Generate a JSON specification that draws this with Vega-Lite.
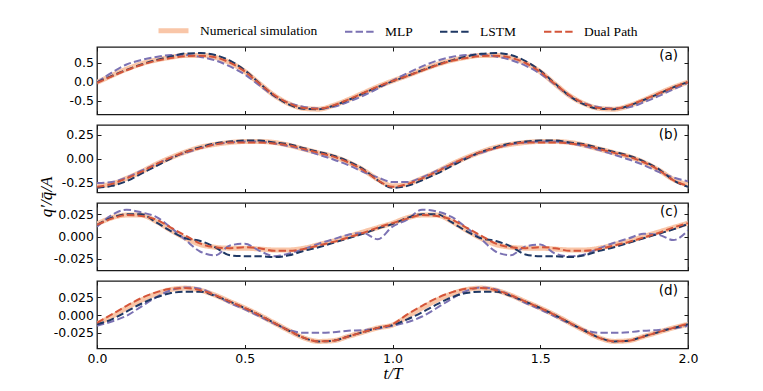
{
  "$schema": "https://vega.github.io/schema/vega-lite/v6.json",
  "autosize": {"type": "pad"},
  "padding": {"left": 36, "top": 13, "right": 5, "bottom": 5},
  "background": "#ffffff",
  "data": {"values": [
    {"p":"a","t":0.00,"N":-0.02,"M":-0.02,"L":-0.02,"D":-0.03},
    {"p":"a","t":0.05,"N":0.16,"M":0.24,"L":0.15,"D":0.14},
    {"p":"a","t":0.10,"N":0.33,"M":0.45,"L":0.31,"D":0.30},
    {"p":"a","t":0.15,"N":0.47,"M":0.57,"L":0.45,"D":0.44},
    {"p":"a","t":0.20,"N":0.57,"M":0.65,"L":0.57,"D":0.55},
    {"p":"a","t":0.25,"N":0.64,"M":0.70,"L":0.66,"D":0.62},
    {"p":"a","t":0.30,"N":0.69,"M":0.70,"L":0.74,"D":0.67},
    {"p":"a","t":0.35,"N":0.69,"M":0.65,"L":0.75,"D":0.68},
    {"p":"a","t":0.40,"N":0.64,"M":0.56,"L":0.70,"D":0.64},
    {"p":"a","t":0.45,"N":0.50,"M":0.40,"L":0.55,"D":0.50},
    {"p":"a","t":0.50,"N":0.27,"M":0.19,"L":0.30,"D":0.27},
    {"p":"a","t":0.55,"N":-0.05,"M":-0.10,"L":-0.04,"D":-0.05},
    {"p":"a","t":0.60,"N":-0.36,"M":-0.38,"L":-0.37,"D":-0.35},
    {"p":"a","t":0.65,"N":-0.58,"M":-0.56,"L":-0.60,"D":-0.57},
    {"p":"a","t":0.70,"N":-0.70,"M":-0.66,"L":-0.71,"D":-0.69},
    {"p":"a","t":0.75,"N":-0.72,"M":-0.70,"L":-0.72,"D":-0.71},
    {"p":"a","t":0.80,"N":-0.62,"M":-0.66,"L":-0.63,"D":-0.62},
    {"p":"a","t":0.85,"N":-0.47,"M":-0.53,"L":-0.48,"D":-0.47},
    {"p":"a","t":0.90,"N":-0.30,"M":-0.37,"L":-0.31,"D":-0.30},
    {"p":"a","t":0.95,"N":-0.13,"M":-0.18,"L":-0.14,"D":-0.13},
    {"p":"a","t":1.00,"N":0.02,"M":0.03,"L":0.01,"D":0.02},
    {"p":"a","t":1.05,"N":0.16,"M":0.22,"L":0.15,"D":0.15},
    {"p":"a","t":1.10,"N":0.31,"M":0.40,"L":0.30,"D":0.29},
    {"p":"a","t":1.15,"N":0.45,"M":0.55,"L":0.44,"D":0.43},
    {"p":"a","t":1.20,"N":0.56,"M":0.65,"L":0.56,"D":0.55},
    {"p":"a","t":1.25,"N":0.64,"M":0.70,"L":0.66,"D":0.62},
    {"p":"a","t":1.30,"N":0.69,"M":0.71,"L":0.73,"D":0.67},
    {"p":"a","t":1.35,"N":0.69,"M":0.66,"L":0.75,"D":0.68},
    {"p":"a","t":1.40,"N":0.63,"M":0.57,"L":0.70,"D":0.63},
    {"p":"a","t":1.45,"N":0.49,"M":0.42,"L":0.54,"D":0.49},
    {"p":"a","t":1.50,"N":0.26,"M":0.21,"L":0.29,"D":0.26},
    {"p":"a","t":1.55,"N":-0.06,"M":-0.08,"L":-0.05,"D":-0.06},
    {"p":"a","t":1.60,"N":-0.37,"M":-0.38,"L":-0.38,"D":-0.36},
    {"p":"a","t":1.65,"N":-0.58,"M":-0.57,"L":-0.60,"D":-0.57},
    {"p":"a","t":1.70,"N":-0.70,"M":-0.67,"L":-0.71,"D":-0.69},
    {"p":"a","t":1.75,"N":-0.72,"M":-0.70,"L":-0.72,"D":-0.71},
    {"p":"a","t":1.80,"N":-0.63,"M":-0.67,"L":-0.63,"D":-0.62},
    {"p":"a","t":1.85,"N":-0.48,"M":-0.54,"L":-0.48,"D":-0.47},
    {"p":"a","t":1.90,"N":-0.31,"M":-0.38,"L":-0.32,"D":-0.31},
    {"p":"a","t":1.95,"N":-0.15,"M":-0.20,"L":-0.15,"D":-0.15},
    {"p":"a","t":2.00,"N":-0.01,"M":-0.03,"L":-0.01,"D":-0.01},

    {"p":"b","t":0.00,"N":-0.29,"M":-0.26,"L":-0.31,"D":-0.30},
    {"p":"b","t":0.05,"N":-0.27,"M":-0.25,"L":-0.29,"D":-0.27},
    {"p":"b","t":0.10,"N":-0.21,"M":-0.20,"L":-0.24,"D":-0.21},
    {"p":"b","t":0.15,"N":-0.14,"M":-0.13,"L":-0.16,"D":-0.14},
    {"p":"b","t":0.20,"N":-0.06,"M":-0.06,"L":-0.08,"D":-0.06},
    {"p":"b","t":0.25,"N":0.01,"M":0.01,"L":0.00,"D":0.01},
    {"p":"b","t":0.30,"N":0.07,"M":0.06,"L":0.07,"D":0.07},
    {"p":"b","t":0.35,"N":0.12,"M":0.11,"L":0.12,"D":0.11},
    {"p":"b","t":0.40,"N":0.15,"M":0.15,"L":0.16,"D":0.15},
    {"p":"b","t":0.45,"N":0.17,"M":0.17,"L":0.18,"D":0.17},
    {"p":"b","t":0.50,"N":0.18,"M":0.18,"L":0.19,"D":0.17},
    {"p":"b","t":0.55,"N":0.18,"M":0.18,"L":0.19,"D":0.17},
    {"p":"b","t":0.60,"N":0.17,"M":0.16,"L":0.17,"D":0.16},
    {"p":"b","t":0.65,"N":0.14,"M":0.13,"L":0.15,"D":0.14},
    {"p":"b","t":0.70,"N":0.10,"M":0.09,"L":0.11,"D":0.10},
    {"p":"b","t":0.75,"N":0.06,"M":0.04,"L":0.07,"D":0.06},
    {"p":"b","t":0.80,"N":0.02,"M":-0.01,"L":0.03,"D":0.02},
    {"p":"b","t":0.85,"N":-0.04,"M":-0.07,"L":-0.03,"D":-0.04},
    {"p":"b","t":0.90,"N":-0.12,"M":-0.14,"L":-0.11,"D":-0.12},
    {"p":"b","t":0.95,"N":-0.22,"M":-0.20,"L":-0.23,"D":-0.23},
    {"p":"b","t":1.00,"N":-0.29,"M":-0.25,"L":-0.31,"D":-0.30},
    {"p":"b","t":1.05,"N":-0.27,"M":-0.25,"L":-0.29,"D":-0.27},
    {"p":"b","t":1.10,"N":-0.21,"M":-0.20,"L":-0.23,"D":-0.21},
    {"p":"b","t":1.15,"N":-0.14,"M":-0.13,"L":-0.16,"D":-0.14},
    {"p":"b","t":1.20,"N":-0.06,"M":-0.06,"L":-0.08,"D":-0.06},
    {"p":"b","t":1.25,"N":0.01,"M":0.01,"L":0.00,"D":0.01},
    {"p":"b","t":1.30,"N":0.07,"M":0.06,"L":0.07,"D":0.07},
    {"p":"b","t":1.35,"N":0.12,"M":0.11,"L":0.12,"D":0.11},
    {"p":"b","t":1.40,"N":0.15,"M":0.15,"L":0.16,"D":0.15},
    {"p":"b","t":1.45,"N":0.17,"M":0.17,"L":0.18,"D":0.17},
    {"p":"b","t":1.50,"N":0.18,"M":0.18,"L":0.19,"D":0.17},
    {"p":"b","t":1.55,"N":0.18,"M":0.18,"L":0.19,"D":0.17},
    {"p":"b","t":1.60,"N":0.17,"M":0.16,"L":0.17,"D":0.16},
    {"p":"b","t":1.65,"N":0.14,"M":0.13,"L":0.15,"D":0.14},
    {"p":"b","t":1.70,"N":0.10,"M":0.09,"L":0.11,"D":0.10},
    {"p":"b","t":1.75,"N":0.06,"M":0.04,"L":0.07,"D":0.06},
    {"p":"b","t":1.80,"N":0.02,"M":-0.01,"L":0.03,"D":0.02},
    {"p":"b","t":1.85,"N":-0.04,"M":-0.07,"L":-0.03,"D":-0.04},
    {"p":"b","t":1.90,"N":-0.12,"M":-0.14,"L":-0.11,"D":-0.12},
    {"p":"b","t":1.95,"N":-0.22,"M":-0.20,"L":-0.23,"D":-0.23},
    {"p":"b","t":2.00,"N":-0.28,"M":-0.24,"L":-0.30,"D":-0.29},

    {"p":"c","t":0.00,"N":0.014,"M":0.011,"L":0.013,"D":0.013},
    {"p":"c","t":0.05,"N":0.021,"M":0.024,"L":0.021,"D":0.020},
    {"p":"c","t":0.10,"N":0.024,"M":0.030,"L":0.025,"D":0.024},
    {"p":"c","t":0.15,"N":0.024,"M":0.027,"L":0.025,"D":0.023},
    {"p":"c","t":0.20,"N":0.017,"M":0.022,"L":0.016,"D":0.019},
    {"p":"c","t":0.25,"N":0.007,"M":0.010,"L":0.006,"D":0.010},
    {"p":"c","t":0.30,"N":-0.002,"M":-0.004,"L":-0.002,"D":0.001},
    {"p":"c","t":0.35,"N":-0.009,"M":-0.017,"L":-0.005,"D":-0.008},
    {"p":"c","t":0.40,"N":-0.012,"M":-0.021,"L":-0.012,"D":-0.012},
    {"p":"c","t":0.45,"N":-0.013,"M":-0.010,"L":-0.021,"D":-0.013},
    {"p":"c","t":0.50,"N":-0.013,"M":-0.008,"L":-0.022,"D":-0.012},
    {"p":"c","t":0.55,"N":-0.014,"M":-0.016,"L":-0.022,"D":-0.013},
    {"p":"c","t":0.60,"N":-0.015,"M":-0.022,"L":-0.023,"D":-0.016},
    {"p":"c","t":0.65,"N":-0.015,"M":-0.019,"L":-0.021,"D":-0.016},
    {"p":"c","t":0.70,"N":-0.013,"M":-0.014,"L":-0.016,"D":-0.014},
    {"p":"c","t":0.75,"N":-0.009,"M":-0.008,"L":-0.012,"D":-0.010},
    {"p":"c","t":0.80,"N":-0.005,"M":-0.003,"L":-0.007,"D":-0.006},
    {"p":"c","t":0.85,"N":0.000,"M":0.002,"L":-0.002,"D":-0.001},
    {"p":"c","t":0.90,"N":0.005,"M":0.004,"L":0.003,"D":0.004},
    {"p":"c","t":0.95,"N":0.010,"M":-0.003,"L":0.009,"D":0.010},
    {"p":"c","t":1.00,"N":0.015,"M":0.011,"L":0.014,"D":0.015},
    {"p":"c","t":1.05,"N":0.021,"M":0.019,"L":0.021,"D":0.020},
    {"p":"c","t":1.10,"N":0.024,"M":0.030,"L":0.025,"D":0.024},
    {"p":"c","t":1.15,"N":0.024,"M":0.028,"L":0.025,"D":0.023},
    {"p":"c","t":1.20,"N":0.017,"M":0.022,"L":0.016,"D":0.019},
    {"p":"c","t":1.25,"N":0.007,"M":0.010,"L":0.006,"D":0.010},
    {"p":"c","t":1.30,"N":-0.002,"M":-0.003,"L":-0.002,"D":0.001},
    {"p":"c","t":1.35,"N":-0.009,"M":-0.017,"L":-0.005,"D":-0.008},
    {"p":"c","t":1.40,"N":-0.012,"M":-0.021,"L":-0.011,"D":-0.012},
    {"p":"c","t":1.45,"N":-0.013,"M":-0.011,"L":-0.020,"D":-0.013},
    {"p":"c","t":1.50,"N":-0.013,"M":-0.009,"L":-0.022,"D":-0.012},
    {"p":"c","t":1.55,"N":-0.014,"M":-0.019,"L":-0.022,"D":-0.013},
    {"p":"c","t":1.60,"N":-0.015,"M":-0.022,"L":-0.023,"D":-0.016},
    {"p":"c","t":1.65,"N":-0.015,"M":-0.020,"L":-0.021,"D":-0.016},
    {"p":"c","t":1.70,"N":-0.013,"M":-0.013,"L":-0.016,"D":-0.014},
    {"p":"c","t":1.75,"N":-0.009,"M":-0.007,"L":-0.012,"D":-0.010},
    {"p":"c","t":1.80,"N":-0.005,"M":-0.002,"L":-0.007,"D":-0.006},
    {"p":"c","t":1.85,"N":0.000,"M":0.003,"L":-0.002,"D":-0.001},
    {"p":"c","t":1.90,"N":0.005,"M":0.002,"L":0.003,"D":0.004},
    {"p":"c","t":1.95,"N":0.010,"M":-0.004,"L":0.008,"D":0.010},
    {"p":"c","t":2.00,"N":0.015,"M":0.007,"L":0.014,"D":0.015},

    {"p":"d","t":0.00,"N":-0.012,"M":-0.015,"L":-0.013,"D":-0.011},
    {"p":"d","t":0.05,"N":-0.002,"M":-0.009,"L":-0.006,"D":0.001},
    {"p":"d","t":0.10,"N":0.010,"M":-0.001,"L":0.005,"D":0.013},
    {"p":"d","t":0.15,"N":0.021,"M":0.012,"L":0.016,"D":0.024},
    {"p":"d","t":0.20,"N":0.030,"M":0.025,"L":0.025,"D":0.032},
    {"p":"d","t":0.25,"N":0.036,"M":0.035,"L":0.031,"D":0.037},
    {"p":"d","t":0.30,"N":0.038,"M":0.039,"L":0.033,"D":0.038},
    {"p":"d","t":0.35,"N":0.035,"M":0.037,"L":0.033,"D":0.035},
    {"p":"d","t":0.40,"N":0.028,"M":0.028,"L":0.027,"D":0.028},
    {"p":"d","t":0.45,"N":0.019,"M":0.017,"L":0.019,"D":0.019},
    {"p":"d","t":0.50,"N":0.010,"M":0.008,"L":0.010,"D":0.010},
    {"p":"d","t":0.55,"N":0.000,"M":-0.002,"L":0.000,"D":0.000},
    {"p":"d","t":0.60,"N":-0.011,"M":-0.012,"L":-0.011,"D":-0.011},
    {"p":"d","t":0.65,"N":-0.022,"M":-0.021,"L":-0.022,"D":-0.022},
    {"p":"d","t":0.70,"N":-0.032,"M":-0.025,"L":-0.032,"D":-0.032},
    {"p":"d","t":0.75,"N":-0.037,"M":-0.025,"L":-0.037,"D":-0.037},
    {"p":"d","t":0.80,"N":-0.036,"M":-0.024,"L":-0.036,"D":-0.036},
    {"p":"d","t":0.85,"N":-0.030,"M":-0.022,"L":-0.030,"D":-0.030},
    {"p":"d","t":0.90,"N":-0.024,"M":-0.021,"L":-0.024,"D":-0.024},
    {"p":"d","t":0.95,"N":-0.018,"M":-0.019,"L":-0.018,"D":-0.018},
    {"p":"d","t":1.00,"N":-0.014,"M":-0.015,"L":-0.014,"D":-0.013},
    {"p":"d","t":1.05,"N":-0.002,"M":-0.010,"L":-0.006,"D":0.001},
    {"p":"d","t":1.10,"N":0.010,"M":-0.002,"L":0.004,"D":0.013},
    {"p":"d","t":1.15,"N":0.021,"M":0.010,"L":0.015,"D":0.024},
    {"p":"d","t":1.20,"N":0.030,"M":0.023,"L":0.025,"D":0.032},
    {"p":"d","t":1.25,"N":0.036,"M":0.034,"L":0.031,"D":0.037},
    {"p":"d","t":1.30,"N":0.038,"M":0.039,"L":0.033,"D":0.038},
    {"p":"d","t":1.35,"N":0.035,"M":0.036,"L":0.033,"D":0.035},
    {"p":"d","t":1.40,"N":0.028,"M":0.028,"L":0.027,"D":0.028},
    {"p":"d","t":1.45,"N":0.019,"M":0.017,"L":0.019,"D":0.019},
    {"p":"d","t":1.50,"N":0.010,"M":0.008,"L":0.010,"D":0.010},
    {"p":"d","t":1.55,"N":0.000,"M":-0.002,"L":0.000,"D":0.000},
    {"p":"d","t":1.60,"N":-0.011,"M":-0.012,"L":-0.011,"D":-0.011},
    {"p":"d","t":1.65,"N":-0.022,"M":-0.021,"L":-0.022,"D":-0.022},
    {"p":"d","t":1.70,"N":-0.032,"M":-0.025,"L":-0.032,"D":-0.032},
    {"p":"d","t":1.75,"N":-0.037,"M":-0.025,"L":-0.037,"D":-0.037},
    {"p":"d","t":1.80,"N":-0.036,"M":-0.024,"L":-0.036,"D":-0.036},
    {"p":"d","t":1.85,"N":-0.030,"M":-0.022,"L":-0.030,"D":-0.030},
    {"p":"d","t":1.90,"N":-0.024,"M":-0.021,"L":-0.024,"D":-0.024},
    {"p":"d","t":1.95,"N":-0.018,"M":-0.019,"L":-0.018,"D":-0.018},
    {"p":"d","t":2.00,"N":-0.013,"M":-0.015,"L":-0.013,"D":-0.012}
  ]},
  "transform": [{"fold": ["N", "M", "L", "D"], "as": ["s", "v"]}],
  "bounds": "flush",
  "spacing": 10,
  "resolve": {
    "scale": {"x": "independent", "y": "independent", "color": "shared", "strokeDash": "shared", "strokeWidth": "shared"},
    "legend": {"color": "shared", "strokeDash": "shared", "strokeWidth": "shared"}
  },
  "vconcat": [
    {
      "width": 591, "height": 67.5,
      "transform": [{"filter": "datum.p == 'a'"}],
      "layer": [
        {
          "mark": {"type": "line", "interpolate": "monotone", "clip": true},
          "encoding": {
            "x": {"field": "t", "type": "quantitative", "scale": {"domain": [0, 2], "nice": false, "zero": false},
                  "axis": {"orient": "bottom", "values": [0, 0.5, 1, 1.5, 2], "labels": false, "title": null}},
            "y": {"field": "v", "type": "quantitative", "scale": {"domain": [-0.86, 0.91], "nice": false, "zero": false},
                  "axis": {"orient": "left", "values": [-0.5, 0, 0.5], "labelExpr": "replace(format(datum.value, '.1f'), '\u2212', '-')", "title": null}},
            "color": {"field": "s", "type": "nominal", "scale": {"domain": ["N", "M", "L", "D"], "range": ["#f9c6a8", "#7b72b3", "#1f3864", "#d4553a"]},
                      "legend": {"labelExpr": "datum.label == 'N' ? 'Numerical simulation' : datum.label == 'M' ? 'MLP' : datum.label == 'L' ? 'LSTM' : 'Dual Path'"}},
            "strokeDash": {"field": "s", "type": "nominal", "scale": {"domain": ["N", "M", "L", "D"], "range": [[1, 0], [7.4, 3.2], [7.4, 3.2], [7.4, 3.2]]},
                      "legend": {"labelExpr": "datum.label == 'N' ? 'Numerical simulation' : datum.label == 'M' ? 'MLP' : datum.label == 'L' ? 'LSTM' : 'Dual Path'"}},
            "strokeWidth": {"field": "s", "type": "nominal", "scale": {"type": "ordinal", "domain": ["N", "M", "L", "D"], "range": [5, 2, 2, 2]},
                      "legend": {"labelExpr": "datum.label == 'N' ? 'Numerical simulation' : datum.label == 'M' ? 'MLP' : datum.label == 'L' ? 'LSTM' : 'Dual Path'"}}
          }
        },
        {
          "data": {"values": [{"lab": "(a)"}]},
          "mark": {"type": "text", "align": "right", "baseline": "middle", "font": "DejaVu Sans", "fontSize": 13.5, "color": "#000"},
          "encoding": {
            "x": {"datum": 1.966, "type": "quantitative", "axis": {"orient": "top", "values": [0, 0.5, 1, 1.5, 2], "labels": false, "title": null}},
            "y": {"datum": 0.661, "type": "quantitative", "axis": {"orient": "right", "values": [-0.5, 0, 0.5], "labels": false, "title": null}},
            "text": {"field": "lab"}
          }
        }
      ],
      "resolve": {"axis": {"x": "independent", "y": "independent"}}
    },
    {
      "width": 591, "height": 67.5,
      "transform": [{"filter": "datum.p == 'b'"}],
      "layer": [
        {
          "mark": {"type": "line", "interpolate": "monotone", "clip": true},
          "encoding": {
            "x": {"field": "t", "type": "quantitative", "scale": {"domain": [0, 2], "nice": false, "zero": false},
                  "axis": {"orient": "bottom", "values": [0, 0.5, 1, 1.5, 2], "labels": false, "title": null}},
            "y": {"field": "v", "type": "quantitative", "scale": {"domain": [-0.36, 0.355], "nice": false, "zero": false},
                  "axis": {"orient": "left", "values": [-0.25, 0, 0.25], "labelExpr": "replace(format(datum.value, '.2f'), '\u2212', '-')",
                           "title": "q\u2032/q\u0304/A", "titleX": -51, "titleY": 71.5, "titleAngle": -90, "titleAlign": "center", "titleBaseline": "middle", "titleFontSize": 17}},
            "color": {"field": "s", "type": "nominal", "scale": {"domain": ["N", "M", "L", "D"], "range": ["#f9c6a8", "#7b72b3", "#1f3864", "#d4553a"]},
                      "legend": {"labelExpr": "datum.label == 'N' ? 'Numerical simulation' : datum.label == 'M' ? 'MLP' : datum.label == 'L' ? 'LSTM' : 'Dual Path'"}},
            "strokeDash": {"field": "s", "type": "nominal", "scale": {"domain": ["N", "M", "L", "D"], "range": [[1, 0], [7.4, 3.2], [7.4, 3.2], [7.4, 3.2]]},
                      "legend": {"labelExpr": "datum.label == 'N' ? 'Numerical simulation' : datum.label == 'M' ? 'MLP' : datum.label == 'L' ? 'LSTM' : 'Dual Path'"}},
            "strokeWidth": {"field": "s", "type": "nominal", "scale": {"type": "ordinal", "domain": ["N", "M", "L", "D"], "range": [5, 2, 2, 2]},
                      "legend": {"labelExpr": "datum.label == 'N' ? 'Numerical simulation' : datum.label == 'M' ? 'MLP' : datum.label == 'L' ? 'LSTM' : 'Dual Path'"}}
          }
        },
        {
          "data": {"values": [{"lab": "(b)"}]},
          "mark": {"type": "text", "align": "right", "baseline": "middle", "font": "DejaVu Sans", "fontSize": 13.5, "color": "#000"},
          "encoding": {
            "x": {"datum": 1.966, "type": "quantitative", "axis": {"orient": "top", "values": [0, 0.5, 1, 1.5, 2], "labels": false, "title": null}},
            "y": {"datum": 0.254, "type": "quantitative", "axis": {"orient": "right", "values": [-0.25, 0, 0.25], "labels": false, "title": null}},
            "text": {"field": "lab"}
          }
        }
      ],
      "resolve": {"axis": {"x": "independent", "y": "independent"}}
    },
    {
      "width": 591, "height": 67.5,
      "transform": [{"filter": "datum.p == 'c'"}],
      "layer": [
        {
          "mark": {"type": "line", "interpolate": "monotone", "clip": true},
          "encoding": {
            "x": {"field": "t", "type": "quantitative", "scale": {"domain": [0, 2], "nice": false, "zero": false},
                  "axis": {"orient": "bottom", "values": [0, 0.5, 1, 1.5, 2], "labels": false, "title": null}},
            "y": {"field": "v", "type": "quantitative", "scale": {"domain": [-0.038, 0.0375], "nice": false, "zero": false},
                  "axis": {"orient": "left", "values": [-0.025, 0, 0.025], "labelExpr": "replace(format(datum.value, '.3f'), '\u2212', '-')", "title": null}},
            "color": {"field": "s", "type": "nominal", "scale": {"domain": ["N", "M", "L", "D"], "range": ["#f9c6a8", "#7b72b3", "#1f3864", "#d4553a"]},
                      "legend": {"labelExpr": "datum.label == 'N' ? 'Numerical simulation' : datum.label == 'M' ? 'MLP' : datum.label == 'L' ? 'LSTM' : 'Dual Path'"}},
            "strokeDash": {"field": "s", "type": "nominal", "scale": {"domain": ["N", "M", "L", "D"], "range": [[1, 0], [7.4, 3.2], [7.4, 3.2], [7.4, 3.2]]},
                      "legend": {"labelExpr": "datum.label == 'N' ? 'Numerical simulation' : datum.label == 'M' ? 'MLP' : datum.label == 'L' ? 'LSTM' : 'Dual Path'"}},
            "strokeWidth": {"field": "s", "type": "nominal", "scale": {"type": "ordinal", "domain": ["N", "M", "L", "D"], "range": [5, 2, 2, 2]},
                      "legend": {"labelExpr": "datum.label == 'N' ? 'Numerical simulation' : datum.label == 'M' ? 'MLP' : datum.label == 'L' ? 'LSTM' : 'Dual Path'"}}
          }
        },
        {
          "data": {"values": [{"lab": "(c)"}]},
          "mark": {"type": "text", "align": "right", "baseline": "middle", "font": "DejaVu Sans", "fontSize": 13.5, "color": "#000"},
          "encoding": {
            "x": {"datum": 1.966, "type": "quantitative", "axis": {"orient": "top", "values": [0, 0.5, 1, 1.5, 2], "labels": false, "title": null}},
            "y": {"datum": 0.0269, "type": "quantitative", "axis": {"orient": "right", "values": [-0.025, 0, 0.025], "labels": false, "title": null}},
            "text": {"field": "lab"}
          }
        }
      ],
      "resolve": {"axis": {"x": "independent", "y": "independent"}}
    },
    {
      "width": 591, "height": 67.5,
      "transform": [{"filter": "datum.p == 'd'"}],
      "layer": [
        {
          "mark": {"type": "line", "interpolate": "monotone", "clip": true},
          "encoding": {
            "x": {"field": "t", "type": "quantitative", "scale": {"domain": [0, 2], "nice": false, "zero": false},
                  "axis": {"orient": "bottom", "values": [0, 0.5, 1, 1.5, 2], "format": ".1f", "title": "t/T", "titleFontSize": 17, "titlePadding": 1}},
            "y": {"field": "v", "type": "quantitative", "scale": {"domain": [-0.047, 0.048], "nice": false, "zero": false},
                  "axis": {"orient": "left", "values": [-0.025, 0, 0.025], "labelExpr": "replace(format(datum.value, '.3f'), '\u2212', '-')", "title": null}},
            "color": {"field": "s", "type": "nominal", "scale": {"domain": ["N", "M", "L", "D"], "range": ["#f9c6a8", "#7b72b3", "#1f3864", "#d4553a"]},
                      "legend": {"labelExpr": "datum.label == 'N' ? 'Numerical simulation' : datum.label == 'M' ? 'MLP' : datum.label == 'L' ? 'LSTM' : 'Dual Path'"}},
            "strokeDash": {"field": "s", "type": "nominal", "scale": {"domain": ["N", "M", "L", "D"], "range": [[1, 0], [7.4, 3.2], [7.4, 3.2], [7.4, 3.2]]},
                      "legend": {"labelExpr": "datum.label == 'N' ? 'Numerical simulation' : datum.label == 'M' ? 'MLP' : datum.label == 'L' ? 'LSTM' : 'Dual Path'"}},
            "strokeWidth": {"field": "s", "type": "nominal", "scale": {"type": "ordinal", "domain": ["N", "M", "L", "D"], "range": [5, 2, 2, 2]},
                      "legend": {"labelExpr": "datum.label == 'N' ? 'Numerical simulation' : datum.label == 'M' ? 'MLP' : datum.label == 'L' ? 'LSTM' : 'Dual Path'"}}
          }
        },
        {
          "data": {"values": [{"lab": "(d)"}]},
          "mark": {"type": "text", "align": "right", "baseline": "middle", "font": "DejaVu Sans", "fontSize": 13.5, "color": "#000"},
          "encoding": {
            "x": {"datum": 1.966, "type": "quantitative", "axis": {"orient": "top", "values": [0, 0.5, 1, 1.5, 2], "labels": false, "title": null}},
            "y": {"datum": 0.0346, "type": "quantitative", "axis": {"orient": "right", "values": [-0.025, 0, 0.025], "labels": false, "title": null}},
            "text": {"field": "lab"}
          }
        }
      ],
      "resolve": {"axis": {"x": "independent", "y": "independent"}}
    }
  ],
  "config": {
    "view": {"stroke": "#1a1a1a", "strokeWidth": 1.3},
    "axis": {"domain": false, "grid": false, "ticks": true, "tickSize": -4, "tickColor": "#1a1a1a", "tickWidth": 1,
             "labelFont": "DejaVu Sans", "labelFontSize": 12.5, "labelColor": "#000", "labelPadding": 7.5, "labelFlush": false,
             "titleFont": "Liberation Serif", "titleFontStyle": "italic", "titleFontWeight": "normal", "titleColor": "#000"},
    "legend": {"orient": "none", "legendX": 59, "legendY": -34, "direction": "horizontal", "title": null,
               "symbolType": "stroke", "symbolSize": 900, "labelFont": "Liberation Serif", "labelFontSize": 13.5, "labelColor": "#000",
               "labelOffset": 9, "columnPadding": 23}
  }
}
